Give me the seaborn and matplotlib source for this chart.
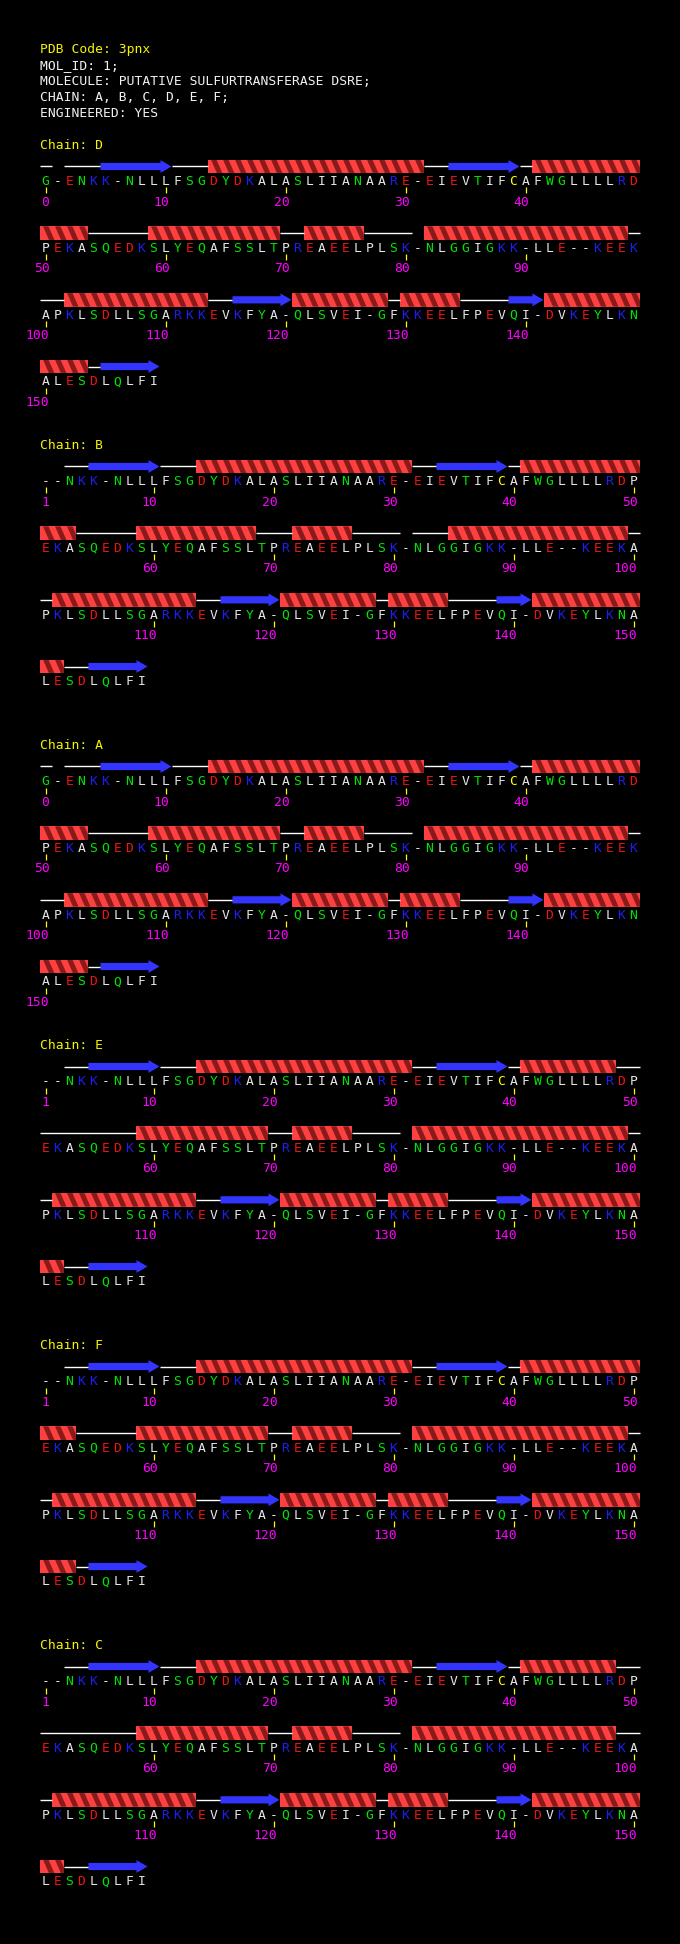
import numpy as np
import pandas as pd
import matplotlib
matplotlib.use("Agg")
import matplotlib.pyplot as plt
from matplotlib.patches import Polygon, Rectangle
import seaborn as sns

# header text
header_code = "PDB Code: 3pnx"
header_lines = ["MOL_ID: 1;",
                "MOLECULE: PUTATIVE SULFURTRANSFERASE DSRE;",
                "CHAIN: A, B, C, D, E, F;",
                "ENGINEERED: YES"]

# chains in the order they are drawn, with first residue number
chains = ["D", "B", "A", "E", "F", "C"]
chain_start = [0, 1, 0, 1, 1, 1]

# sequences (chains D and A start at 0, the others at 1)
seq_from0 = ("G-ENKK-NLLLFSGDYDKALASLIIANAARE-EIEVTIFCAFWGLLLLRD"
             "PEKASQEDKSLYEQAFSSLTPREAEELPLSK-NLGGIGKK-LLE--KEEK"
             "APKLSDLLSGARKKEVKFYA-QLSVEI-GFKKEELFPEVQI-DVKEYLKN"
             "ALESDLQLFI")
seq_from1 = ("--NKK-NLLLFSGDYDKALASLIIANAARE-EIEVTIFCAFWGLLLLRDP"
             "EKASQEDKSLYEQAFSSLTPREAEELPLSK-NLGGIGKK-LLE--KEEKA"
             "PKLSDLLSGARKKEVKFYA-QLSVEI-GFKKEELFPEVQI-DVKEYLKNA"
             "LESDLQLFI")
chain_seq = {"D": seq_from0, "A": seq_from0,
             "B": seq_from1, "E": seq_from1, "F": seq_from1, "C": seq_from1}

# secondary structure per chain: (type, first residue, last residue)
# C = coil, H = helix, E = strand
ss_D = [("C", 0, 0), ("C", 2, 4), ("E", 5, 10), ("C", 11, 13), ("H", 14, 31),
        ("C", 32, 33), ("E", 34, 39), ("C", 40, 40), ("H", 41, 53), ("C", 54, 58),
        ("H", 59, 69), ("C", 70, 71), ("H", 72, 76), ("C", 77, 80), ("H", 82, 98),
        ("C", 99, 101), ("H", 102, 113), ("C", 114, 115), ("E", 116, 120),
        ("H", 121, 128), ("C", 129, 129), ("H", 130, 134), ("C", 135, 138),
        ("E", 139, 141), ("H", 142, 153), ("C", 154, 154), ("E", 155, 159)]
ss_A = list(ss_D)
ss_B = [("C", 3, 4), ("E", 5, 10), ("C", 11, 13), ("H", 14, 31),
        ("C", 32, 33), ("E", 34, 39), ("C", 40, 40), ("H", 41, 53), ("C", 54, 58),
        ("H", 59, 68), ("C", 69, 71), ("H", 72, 76), ("C", 77, 80), ("C", 82, 84),
        ("H", 85, 99), ("C", 100, 101), ("H", 102, 113), ("C", 114, 115),
        ("E", 116, 120), ("H", 121, 128), ("C", 129, 129), ("H", 130, 134),
        ("C", 135, 138), ("E", 139, 141), ("H", 142, 152), ("C", 153, 154),
        ("E", 155, 159)]
ss_E = [("C", 3, 4), ("E", 5, 10), ("C", 11, 13), ("H", 14, 31),
        ("C", 32, 33), ("E", 34, 39), ("C", 40, 40), ("H", 41, 48), ("C", 49, 58),
        ("H", 59, 69), ("C", 70, 71), ("H", 72, 76), ("C", 77, 80), ("H", 82, 99),
        ("C", 100, 101), ("H", 102, 113), ("C", 114, 115), ("E", 116, 120),
        ("H", 121, 128), ("C", 129, 129), ("H", 130, 134), ("C", 135, 138),
        ("E", 139, 141), ("H", 142, 152), ("C", 153, 154), ("E", 155, 159)]
ss_F = [("C", 3, 4), ("E", 5, 10), ("C", 11, 13), ("H", 14, 31),
        ("C", 32, 33), ("E", 34, 39), ("C", 40, 40), ("H", 41, 53), ("C", 54, 58),
        ("H", 59, 69), ("C", 70, 71), ("H", 72, 76), ("C", 77, 80), ("H", 82, 99),
        ("C", 100, 101), ("H", 102, 113), ("C", 114, 115), ("E", 116, 120),
        ("H", 121, 128), ("C", 129, 129), ("H", 130, 134), ("C", 135, 138),
        ("E", 139, 141), ("H", 142, 153), ("C", 154, 154), ("E", 155, 159)]
ss_C = [("C", 3, 4), ("E", 5, 10), ("C", 11, 13), ("H", 14, 31),
        ("C", 32, 33), ("E", 34, 39), ("C", 40, 40), ("H", 41, 48), ("C", 49, 58),
        ("H", 59, 69), ("C", 70, 71), ("H", 72, 76), ("C", 77, 80), ("H", 82, 98),
        ("C", 99, 101), ("H", 102, 113), ("C", 114, 115), ("E", 116, 120),
        ("H", 121, 128), ("C", 129, 129), ("H", 130, 134), ("C", 135, 138),
        ("E", 139, 141), ("H", 142, 152), ("C", 153, 154), ("E", 155, 159)]
chain_ss = {"D": ss_D, "B": ss_B, "A": ss_A, "E": ss_E, "F": ss_F, "C": ss_C}

# residue colouring
acidic = "DE"
basic = "KRH"
polar = "GNSTYQW"
res_colors = {"acid": "#f01414", "base": "#1e1ef0", "polar": "#00e400",
              "cys": "#ffff00", "other": "#e6e6e6"}

def residue_color(ch):
    if ch in acidic:
        return res_colors["acid"]
    if ch in basic:
        return res_colors["base"]
    if ch in polar:
        return res_colors["polar"]
    if ch == "C":
        return res_colors["cys"]
    return res_colors["other"]

# layout (pixels)
per_row = 50
x_left = 39.5
cell = 12.0
chain_top = 144.0
chain_step = 300.0
first_row = 36.5
row_step = 66.67
fs = 9.4

sns.set_theme(style="dark", rc={"axes.facecolor": "black", "figure.facecolor": "black"})
plt.rcParams['font.family'] = ['DejaVu Sans Mono', 'DejaVu Sans']

fig = plt.figure(figsize=(6.8, 19.44), dpi=100)
ax = fig.add_axes([0, 0, 1, 1])
ax.set_xlim(0, 680)
ax.set_ylim(1944, 0)
ax.axis("off")
ax.set_facecolor("black")


def text_caps(x, y, s, color, ha="left"):
    # y is the middle of the capital letters
    ax.text(x, y + fs * 100 / 72 * 0.729 / 2, s, color=color, fontsize=fs,
            ha=ha, va="baseline")


text_caps(40, 48, header_code, "#f5f500")
for i, line in enumerate(header_lines):
    text_caps(40, 64 + 16 * i, line, "#f2f2f2")

# one table of all residues
rows = []
for k, ch in enumerate(chains):
    seq = chain_seq[ch]
    for i, aa in enumerate(seq):
        rows.append({"chain": ch, "k": k, "num": chain_start[k] + i, "aa": aa,
                     "x": x_left + cell * (i % per_row) + cell / 2,
                     "y": chain_top + chain_step * k + first_row + row_step * (i // per_row)})
res = pd.DataFrame(rows)
res["color"] = [residue_color(a) for a in res["aa"]]
res["first"] = res.groupby("chain")["num"].transform("min") == res["num"]
marked = res[(res["num"] % 10 == 0) | res["first"]]

for k, ch in enumerate(chains):
    text_caps(40, chain_top + chain_step * k, "Chain: " + ch, "#f5f500")

for _, r in res.iterrows():
    text_caps(r["x"], r["y"], r["aa"], r["color"], ha="center")

# tick marks and residue numbers
sns.scatterplot(x=marked["x"], y=marked["y"] + 10, marker="|", s=16,
                color="#ffff00", linewidth=0.9, ax=ax, legend=False)
for _, r in marked.iterrows():
    ax.text(r["x"] + 3.9, r["y"] + 20.5 + 4.75, str(r["num"]), color="#ff00ff",
            fontsize=fs, ha="right", va="baseline")

helix_light = "#ff4040"
helix_dark = "#8a1a1a"
strand_col = "#3434ff"

# secondary structure above the sequence
for k, ch in enumerate(chains):
    start = chain_start[k]
    for kind, a, b in chain_ss[ch]:
        ia, ib = a - start, b - start
        while ia <= ib:
            r = ia // per_row
            end = min(ib, (r + 1) * per_row - 1)
            c0, c1 = ia % per_row, end % per_row
            x0 = x_left + cell * c0
            x1 = x_left + cell * (c1 + 1)
            yc = chain_top + chain_step * k + first_row + row_step * r - 14
            if kind == "C":
                ax.plot([x0, x1], [yc, yc], color="white", lw=1.0,
                        solid_capstyle="butt")
            elif kind == "E":
                hl = 11
                pts = [(x0 + 1, yc - 3.6), (x1 - hl, yc - 3.6), (x1 - hl, yc - 6.4),
                       (x1, yc), (x1 - hl, yc + 6.4), (x1 - hl, yc + 3.6),
                       (x0 + 1, yc + 3.6)]
                ax.add_patch(Polygon(pts, closed=True, color=strand_col, lw=0))
            else:
                top, bot = yc - 6.8, yc + 6.8
                band = Rectangle((x0, top), x1 - x0, bot - top,
                                 color=helix_light, lw=0)
                ax.add_patch(band)
                for c in range(c0, c1 + 1):
                    xc = x_left + cell * c
                    stripe = Polygon([(xc + 3.5, top), (xc + 9, top),
                                      (xc + 15, bot), (xc + 9.5, bot)],
                                     closed=True, color=helix_dark, lw=0)
                    ax.add_patch(stripe)
                    stripe.set_clip_path(band)
            ia = end + 1

fig.savefig("out.png", dpi=100, facecolor="black")
